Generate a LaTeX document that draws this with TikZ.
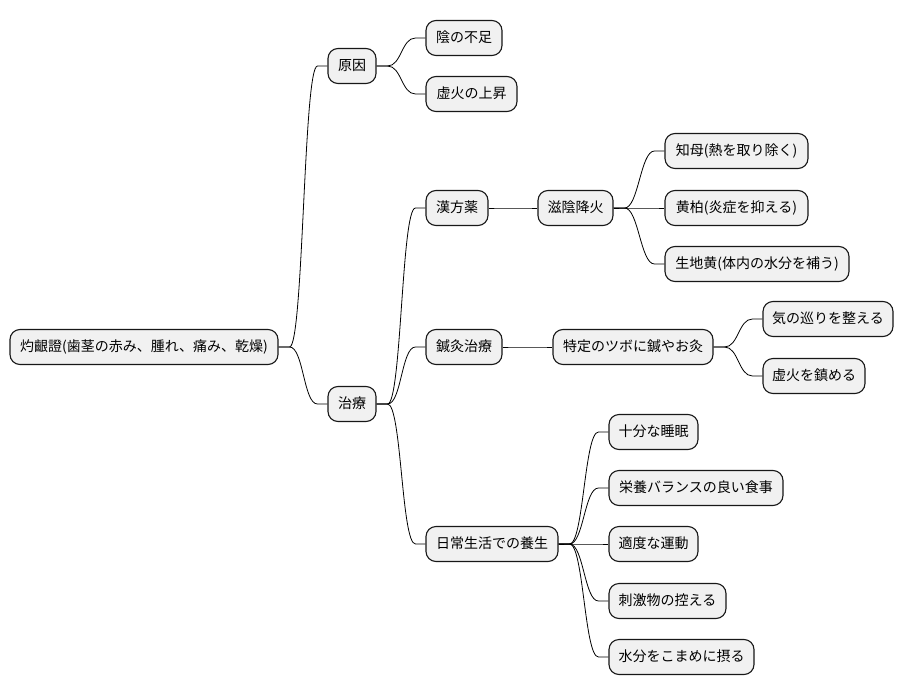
\documentclass[tikz,border=0pt]{standalone}
\usepackage{fontspec}
\setmainfont{Noto Sans CJK JP}
\usetikzlibrary{calc}
\definecolor{boxfill}{HTML}{F1F1F1}
\definecolor{boxline}{HTML}{181818}
\tikzset{
  box/.style={draw=boxline, line width=1.1pt, fill=boxfill, rounded corners=10pt,
    minimum height=35pt, inner sep=0pt, text height=11pt, text depth=2.5pt,
    font=\fontsize{14pt}{16pt}\selectfont, text=black},
  mm/.style={to path={-- ++(11,0) .. controls +(14,0) and ($(\tikztotarget)+(-24,0)$) .. ($(\tikztotarget)+(-10,0)$) -- (\tikztotarget)}},
  conn/.style={draw=black, line width=0.8pt}
}
\begin{document}
\begin{tikzpicture}[x=1pt,y=-1pt]
\useasboundingbox[fill=white] (0,0) rectangle (905,696);
% nodes
\node[box, minimum width=268] (root) at (144,347) {灼齦證(歯茎の赤み、腫れ、痛み、乾燥)};
\node[box, minimum width=48] (genin) at (352,66) {原因};
\node[box, minimum width=76] (infusoku) at (464,38) {陰の不足};
\node[box, minimum width=91] (kyoka) at (471.5,94) {虚火の上昇};
\node[box, minimum width=48] (chiryo) at (352,404) {治療};
\node[box, minimum width=62] (kanpo) at (457,208) {漢方薬};
\node[box, minimum width=75] (jiin) at (575.5,208) {滋陰降火};
\node[box, minimum width=143] (chimo) at (736.5,151) {知母(熱を取り除く)};
\node[box, minimum width=143] (obaku) at (736.5,208) {黄柏(炎症を抑える)};
\node[box, minimum width=184] (shojio) at (757,264) {生地黄(体内の水分を補う)};
\node[box, minimum width=76] (shinkyu) at (464,347) {鍼灸治療};
\node[box, minimum width=160] (tokutei) at (633,347) {特定のツボに鍼やお灸};
\node[box, minimum width=130] (ki) at (828,319) {気の巡りを整える};
\node[box, minimum width=102] (kyoka2) at (814,376) {虚火を鎮める};
\node[box, minimum width=132] (nichijo) at (492,544) {日常生活での養生};
\node[box, minimum width=89] (suimin) at (653.5,432) {十分な睡眠};
\node[box, minimum width=174] (eiyo) at (696,488) {栄養バランスの良い食事};
\node[box, minimum width=89] (undo) at (653.5,544) {適度な運動};
\node[box, minimum width=117] (shigeki) at (667.5,601) {刺激物の控える};
\node[box, minimum width=145] (suibun) at (681.5,657) {水分をこまめに摂る};
% connectors
\draw[conn] (root.east) to[mm] (genin.west);
\draw[conn] (root.east) to[mm] (chiryo.west);
\draw[conn] (genin.east) to[mm] (infusoku.west);
\draw[conn] (genin.east) to[mm] (kyoka.west);
\draw[conn] (chiryo.east) to[mm] (kanpo.west);
\draw[conn] (chiryo.east) to[mm] (shinkyu.west);
\draw[conn] (chiryo.east) to[mm] (nichijo.west);
\draw[conn] (kanpo.east) to[mm] (jiin.west);
\draw[conn] (jiin.east) to[mm] (chimo.west);
\draw[conn] (jiin.east) to[mm] (obaku.west);
\draw[conn] (jiin.east) to[mm] (shojio.west);
\draw[conn] (shinkyu.east) to[mm] (tokutei.west);
\draw[conn] (tokutei.east) to[mm] (ki.west);
\draw[conn] (tokutei.east) to[mm] (kyoka2.west);
\draw[conn] (nichijo.east) to[mm] (suimin.west);
\draw[conn] (nichijo.east) to[mm] (eiyo.west);
\draw[conn] (nichijo.east) to[mm] (undo.west);
\draw[conn] (nichijo.east) to[mm] (shigeki.west);
\draw[conn] (nichijo.east) to[mm] (suibun.west);
\end{tikzpicture}
\end{document}
